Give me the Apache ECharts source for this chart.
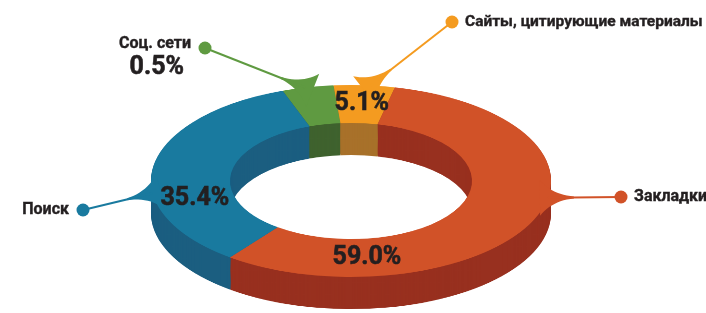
<!DOCTYPE html>
<html>
<head>
<meta charset="utf-8">
<script src="https://cdn.jsdelivr.net/npm/echarts@6/dist/echarts.min.js"></script>
<style>
html, body { margin: 0; padding: 0; background: #fff; }
#wrap { position: relative; width: 706px; height: 313px; overflow: hidden; }
/* the ring is drawn round, then flattened to look like a tilted disc */
#ring { position: absolute; left: 0; top: 0; width: 706px; height: 652px; transform: scaleY(0.48); transform-origin: 0 0; }
#labels { position: absolute; left: 0; top: 0; width: 706px; height: 313px; }
</style>
</head>
<body>
<div id="wrap"><div id="ring"></div><div id="labels"></div></div>
<script>
// данные
var categories = ['Соц. сети', 'Сайты, цитирующие материалы', 'Закладки', 'Поиск'];
var values = [0.5, 5.1, 59.0, 35.4];
var valueLabels = ['0.5%', '5.1%', '59.0%', '35.4%'];

var topColors = ['#5f9a41', '#f49b20', '#d15228', '#197a9f'];
var sideColors = ['#3f622e', '#a8712a', '#98301f', '#1b5e80'];

var SCALE = 0.48;
var CX = 351, CY = 377;
var R0 = 121, R1 = 200;
var DEPTH = 67;

function ringSeries(offset, colors) {
    return {
        type: 'pie',
        silent: true,
        animation: false,
        center: [CX, CY + offset],
        radius: [R0, R1],
        startAngle: 110,
        minAngle: 15,
        clockwise: true,
        label: { show: false },
        labelLine: { show: false },
        emphasis: { disabled: true },
        itemStyle: { borderWidth: 0 },
        data: categories.map(function (c, i) {
            return { name: c, value: values[i], itemStyle: { color: colors[i] } };
        })
    };
}

var series = [];
// боковая стенка: копии кольца, сдвинутые вниз
for (var off = DEPTH; off > 0; off -= 2) {
    series.push(ringSeries(off, sideColors));
}
series.push(ringSeries(0, topColors));

var ringChart = echarts.init(document.getElementById('ring'));
ringChart.setOption({ animation: false, series: series });

var topData = ringChart.getModel().getSeriesByIndex(series.length - 1).getData();

// point on the flattened top surface, from the pie's own layout
function pointAt(i, t, rf) {
    var L = topData.getItemLayout(i);
    var a = L.startAngle + (L.endAngle - L.startAngle) * t;
    var r = L.r0 + (L.r - L.r0) * rf;
    return [L.cx + r * Math.cos(a), (L.cy + r * Math.sin(a)) * SCALE];
}

// выноски
var callouts = [
    { t: 0.45, dot: [205, 48], side: 'left', size: 16 },
    { t: 0.6, dot: [452, 22], side: 'right', size: 15.5 },
    { t: 0.427, dot: [621, 197], side: 'right', size: 16 },
    { t: 0.37, dot: [83, 210], side: 'left', size: 16 }
];
// где стоят проценты внутри кольца (доля дуги)
var valueAt = [null, 0.5, 0.79, 0.32];

var textColor = '#231f20';
var graphic = [];

function quad(p0, c, p1, n) {
    var pts = [];
    for (var k = 0; k <= n; k++) {
        var s = k / n, m = 1 - s;
        pts.push([m * m * p0[0] + 2 * m * s * c[0] + s * s * p1[0],
                  m * m * p0[1] + 2 * m * s * c[1] + s * s * p1[1]]);
    }
    return pts;
}

callouts.forEach(function (c, i) {
    var a = pointAt(i, c.t, 1);
    var dx = c.dot[0] - a[0], dy = c.dot[1] - a[1];
    var len = Math.sqrt(dx * dx + dy * dy);
    var ux = dx / len, uy = dy / len;
    var px = -uy, py = ux;
    function p(along, across) {
        return [a[0] + ux * along + px * across, a[1] + uy * along + py * across];
    }
    // flared foot of the callout
    var pts = quad(p(-8, 18), p(4, 3), p(26, 1), 12)
        .concat(quad(p(26, -1), p(4, -3), p(-8, -18), 12));
    graphic.push({
        type: 'polygon',
        shape: { points: pts },
        style: { fill: topColors[i] }
    });
    graphic.push({
        type: 'line',
        shape: { x1: a[0], y1: a[1], x2: c.dot[0], y2: c.dot[1] },
        style: { stroke: topColors[i], lineWidth: 2 }
    });
    graphic.push({
        type: 'circle',
        shape: { cx: c.dot[0], cy: c.dot[1], r: 6.5 },
        style: { fill: topColors[i] }
    });
    graphic.push({
        type: 'text',
        x: c.side === 'left' ? c.dot[0] - 14 : c.dot[0] + 13,
        y: c.dot[1] + (i === 0 ? -4 : 0),
        style: {
            text: categories[i],
            fill: textColor,
            stroke: textColor,
            lineWidth: 0.4,
            font: 'bold ' + c.size + 'px Roboto',
            textAlign: c.side === 'left' ? 'right' : 'left',
            textVerticalAlign: 'middle'
        }
    });
});

// значения
valueLabels.forEach(function (v, i) {
    var pos;
    if (valueAt[i] === null) {
        pos = [callouts[i].dot[0] - 21, callouts[i].dot[1] + 20];
    } else {
        pos = pointAt(i, valueAt[i], 0.5);
    }
    graphic.push({
        type: 'text',
        x: pos[0],
        y: pos[1],
        style: {
            text: v,
            fill: textColor,
            stroke: textColor,
            lineWidth: 0.6,
            font: 'bold 25px Roboto',
            textAlign: valueAt[i] === null ? 'right' : 'center',
            textVerticalAlign: 'middle'
        }
    });
});

var labelChart = echarts.init(document.getElementById('labels'));
labelChart.setOption({ animation: false, graphic: graphic });
</script>
</body>
</html>
